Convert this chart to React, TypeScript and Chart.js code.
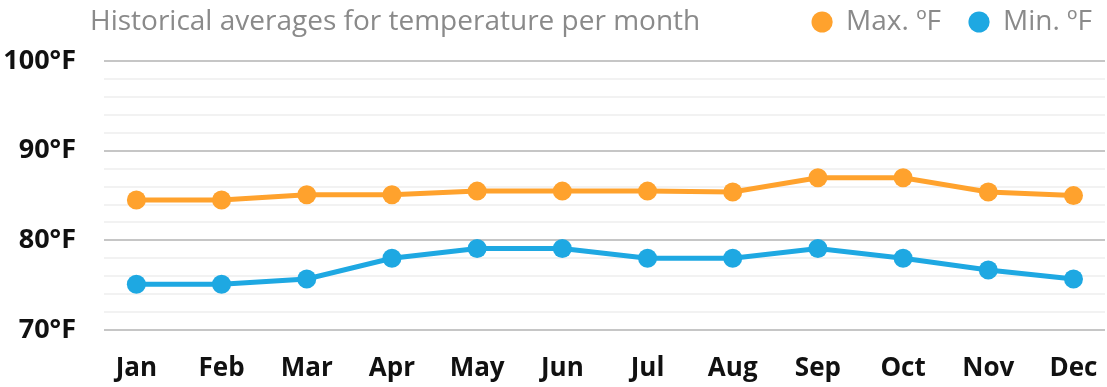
import React, { useEffect, useRef } from "react";
import { Chart, registerables } from "chart.js";

Chart.register(...registerables);

const TITLE = "Historical averages for temperature per month";
const MONTHS = ["Jan", "Feb", "Mar", "Apr", "May", "Jun", "Jul", "Aug", "Sep", "Oct", "Nov", "Dec"];
const MAX_F = [84.5, 84.5, 85.1, 85.1, 85.5, 85.5, 85.5, 85.4, 87.0, 87.0, 85.4, 85.0];
const MIN_F = [75.1, 75.1, 75.7, 78.0, 79.1, 79.1, 78.0, 78.0, 79.1, 78.0, 76.7, 75.7];
const SERIES_LABELS = ["Max. ºF", "Min. ºF"];
const SERIES_COLORS = ["#ffa22d", "#1ea8e2"];
const Y_MIN = 70;
const Y_MAX = 100;

const FONT = '"Open Sans", "Noto Sans", sans-serif';

const titlePlugin = {
  id: "sideTitle",
  afterLayout(chart: any) {
    const lg = chart.legend;
    if (lg) {
      lg.left += 15;
      lg.right += 15;
    }
  },
  afterDraw(chart: any) {
    const lg = chart.legend;
    let y = 21;
    if (lg && lg.legendHitBoxes && lg.legendHitBoxes.length) {
      const hb = lg.legendHitBoxes[0];
      y = hb.top + hb.height / 2;
    }
    const ctx = chart.ctx;
    ctx.save();
    ctx.font = `28px ${FONT}`;
    ctx.fillStyle = "#8a8a8a";
    ctx.textBaseline = "middle";
    ctx.textAlign = "left";
    ctx.fillText(TITLE, 90, y);
    ctx.restore();
  },
};

export default function App() {
  const ref = useRef<HTMLCanvasElement | null>(null);

  useEffect(() => {
    document.body.style.margin = "0";
    const canvas = ref.current;
    if (!canvas) return;
    const toPoints = (arr: number[]) => arr.map((v, i) => ({ x: i, y: v }));
    const chart = new Chart(canvas, {
      type: "line",
      data: {
        datasets: [
          {
            label: SERIES_LABELS[0],
            data: toPoints(MAX_F),
            borderColor: SERIES_COLORS[0],
            backgroundColor: SERIES_COLORS[0],
            borderWidth: 5,
            pointRadius: 9.5,
            pointBorderWidth: 0,
            pointBackgroundColor: SERIES_COLORS[0],
            tension: 0,
          },
          {
            label: SERIES_LABELS[1],
            data: toPoints(MIN_F),
            borderColor: SERIES_COLORS[1],
            backgroundColor: SERIES_COLORS[1],
            borderWidth: 5,
            pointRadius: 9.5,
            pointBorderWidth: 0,
            pointBackgroundColor: SERIES_COLORS[1],
            tension: 0,
          },
        ],
      },
      options: {
        responsive: false,
        animation: false,
        devicePixelRatio: 1,
        layout: { autoPadding: false, padding: { top: -20, left: 3, right: 2, bottom: 0 } },
        plugins: {
          title: { display: false },
          subtitle: {
            display: true,
            text: "",
            font: { size: 1 },
            padding: { top: 0, bottom: 14 },
          },
          tooltip: { enabled: false },
          legend: {
            display: true,
            position: "top",
            align: "end",
            weight: 3000,
            labels: {
              usePointStyle: true,
              pointStyle: "circle",
              boxWidth: 20,
              boxHeight: 15,
              padding: 28,
              color: "#8a8a8a",
              font: { family: FONT, size: 28 },
            },
          },
        },
        scales: {
          x: {
            type: "linear",
            min: -0.38,
            max: 11.37,
            afterBuildTicks: (scale: any) => {
              scale.ticks = MONTHS.map((_, i) => ({ value: i }));
            },
            afterFit: (scale: any) => {
              scale.paddingLeft = 0;
              scale.paddingRight = 0;
              scale.height = 57;
            },
            grid: { display: false, drawTicks: false },
            border: { display: false },
            ticks: {
              autoSkip: false,
              maxRotation: 0,
              padding: 23,
              color: "#111",
              font: { family: FONT, size: 26, weight: "bold" },
              callback: (v: any) => MONTHS[Math.round(Number(v))] ?? "",
            },
          },
          y: {
            min: Y_MIN,
            max: Y_MAX,
            afterFit: (scale: any) => {
              scale.width = 101;
            },
            border: { display: false },
            grid: {
              drawTicks: false,
              lineWidth: 2,
              color: (c: any) => (c.tick && c.tick.value % 10 === 0 ? "#c6c6c6" : "#f2f2f2"),
            },
            ticks: {
              stepSize: 2,
              autoSkip: false,
              padding: 28,
              color: "#111",
              font: { family: FONT, size: 27, weight: "bold" },
              callback: (v: any) => (Number(v) % 10 === 0 ? `${v}°F` : ""),
            },
          },
        },
      },
      plugins: [titlePlugin],
    } as any);
    return () => chart.destroy();
  }, []);

  return (
    <div style={{ width: 1107, height: 387 }}>
      <canvas ref={ref} width={1107} height={387} />
    </div>
  );
}
